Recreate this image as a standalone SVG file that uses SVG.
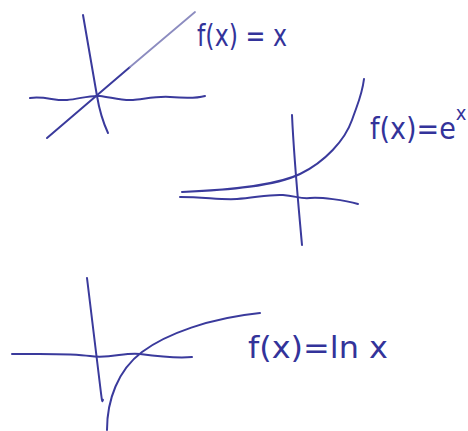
<svg xmlns="http://www.w3.org/2000/svg" width="468" height="431" viewBox="0 0 468 431">
<style>
.ink{fill:none;stroke:#3a3a9c;stroke-width:2;stroke-linecap:round;stroke-linejoin:round}
.light{fill:none;stroke:#8c8cc0;stroke-width:1.8;stroke-linecap:round}
.lbl{font-family:"DejaVu Sans","Liberation Sans",sans-serif;font-size:31px;fill:#33339a}
.cond{font-family:"DejaVu Sans Condensed","DejaVu Sans",sans-serif;font-size:30px;fill:#33339a}
</style>
<rect width="468" height="431" fill="#ffffff"/>
<g id="graph-linear">
<path class="ink" d="M83,15 L97,96 C99,108 102,120 108,133"/>
<path class="ink" d="M30,98 C45,96 55,101 67,100 S90,95 100,96 S122,101 133,100 S158,96 170,97 S198,98 205,96"/>
<path class="ink" d="M47,138 L130,67"/>
<path class="light" d="M130,67 L195,12"/>
<text class="lbl" x="197" y="46" textLength="90" lengthAdjust="spacingAndGlyphs">f(x) = x</text>
</g>
<g id="graph-exp">
<path class="ink" d="M292,115 C294,160 298,200 302,245"/>
<path class="ink" d="M180,197 C205,197 220,200 237,199 S270,194 283,195 S300,199 310,198 S345,200 358,204"/>
<path class="ink" d="M182,192 C230,190 275,186 300,174 S345,140 352,120 S362,95 364,79"/>
<text class="cond" x="370" y="139">f(x)=e<tspan dy="-19" style="font-size:20px">x</tspan></text>
</g>
<g id="graph-ln">
<path class="ink" d="M87,278 C92,320 97,360 100,385 S102,398 103,400"/>
<path class="ink" d="M12,354 C40,354 70,353 90,356 S125,352 140,354 S180,358 192,357"/>
<path class="ink" d="M107,430 C107,400 118,370 142,352 S210,318 260,313"/>
<text class="lbl" x="248" y="358" textLength="140" lengthAdjust="spacingAndGlyphs">f(x)=ln x</text>
</g>
</svg>
